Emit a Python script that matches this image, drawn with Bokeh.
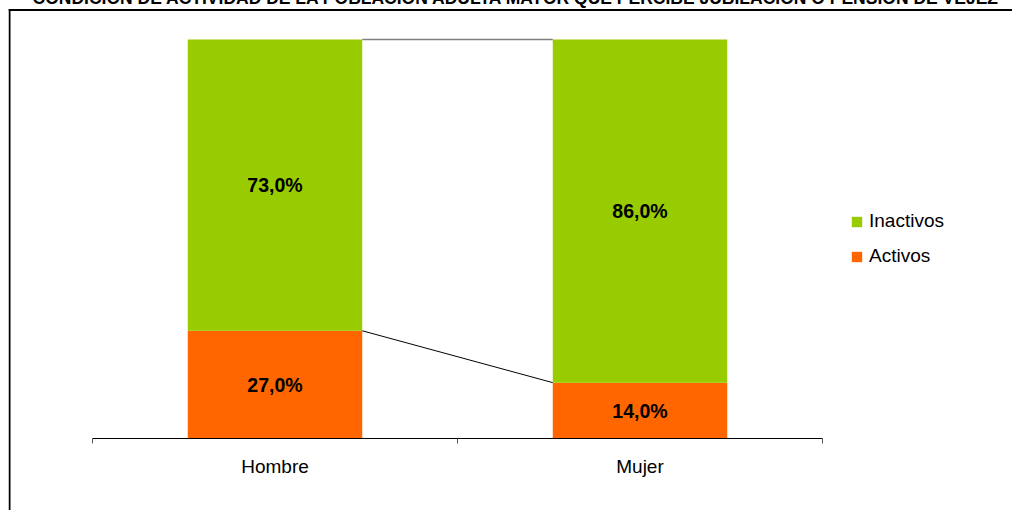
from bokeh.plotting import figure
from bokeh.models import (Range1d, LinearAxis, FixedTicker, Legend, LegendItem,
                          BoxAnnotation, Label, Span, ColumnDataSource)
from bokeh.core.properties import value
from bokeh.embed import file_html
from bokeh.resources import INLINE

# ---- data ----
categories = ["Hombre", "Mujer"]
series = ["Activos", "Inactivos"]
activos = [27.0, 14.0]
inactivos = [73.0, 86.0]
colors = ["#FF6600", "#99CC00"]
title_text = "CONDICIÓN DE ACTIVIDAD DE LA POBLACIÓN ADULTA MAYOR QUE PERCIBE JUBILACIÓN O PENSIÓN DE VEJEZ"

FONT = "Liberation Sans"

# ---- layout geometry (pixels) ----
W, H = 1004, 516
PX_X = 365.0               # pixels per category
PAGE_LEFT = 8
X0_PAGE = 92               # page x of the axis start
xs = -(X0_PAGE - PAGE_LEFT) / PX_X
xe = xs + W / PX_X
PX_Y = 3.99                # pixels per percentage point
PAGE_TOP = -6
ye = 100 + (39 - PAGE_TOP) / PX_Y
ys = ye - H / PX_Y

def yp(page_y):
    return ye - (page_y - PAGE_TOP) / PX_Y

p = figure(width=W, height=H, x_range=Range1d(xs, xe), y_range=Range1d(ys, ye),
           output_backend="svg", toolbar_location=None,
           x_axis_type=None, y_axis_type=None, min_border=0,
           outline_line_color=None, background_fill_color="white",
           border_fill_color="white", margin=(-6, 0, 0, 8))
p.grid.visible = False

x = [i + 0.5 for i in range(len(categories))]
bar_w = 0.478
source = ColumnDataSource(dict(x=x, Activos=activos, Inactivos=inactivos))
rs = p.vbar_stack(series, x="x", width=bar_w, color=colors, line_color=None, source=source)

# connector lines between the stacked bars
tops = [a + b for a, b in zip(activos, inactivos)]
p.line(x=[x[0] + bar_w / 2, x[1] - bar_w / 2], y=activos, line_color="black", line_width=1)
p.line(x=[x[0] + bar_w / 2, x[1] - bar_w / 2], y=tops, line_color="#808080", line_width=1.6)

# data labels
lx, ly, lt = [], [], []
for xi, a, b in zip(x, activos, inactivos):
    lx += [xi, xi]
    ly += [a / 2, a + b / 2]
    lt += [f"{a:.1f}".replace(".", ",") + "%", f"{b:.1f}".replace(".", ",") + "%"]
p.text(x=lx, y=ly, text=lt, text_font=value(FONT), text_font_style="bold",
       text_font_size="19.5px", text_align="center", text_baseline="middle",
       text_color="black")

# category axis
ax = LinearAxis(fixed_location=0, bounds=(0, len(categories)),
                ticker=FixedTicker(ticks=x, minor_ticks=list(range(len(categories) + 1))),
                major_label_overrides={xi: c for xi, c in zip(x, categories)},
                major_tick_line_color=None, major_tick_out=0, major_tick_in=0,
                minor_tick_out=5, minor_tick_in=0, minor_tick_line_color="#555555",
                axis_line_color="black", axis_line_width=1,
                major_label_text_font=FONT, major_label_text_font_size="19px",
                major_label_text_color="black", major_label_standoff=12)
p.add_layout(ax, "below")

# chart border (left and top edges)
p.add_layout(Span(location=yp(9.5), dimension="width", line_color="black", line_width=2))
p.add_layout(BoxAnnotation(left=xs, right=xs + 2 / PX_X, top=yp(8.5),
                           fill_color="black", fill_alpha=1.0, line_color=None))

# title (partly cut at the top, as in the reference)
p.add_layout(Label(x=xs + (32 - PAGE_LEFT) / PX_X, y=yp(-3),
                   text=title_text, text_font=FONT, text_font_style="bold",
                   text_font_size="17.5px", text_align="left",
                   text_baseline="alphabetic", text_color="black"))

legend = Legend(items=[LegendItem(label="Inactivos", renderers=[rs[1]]),
                       LegendItem(label="Activos", renderers=[rs[0]])],
                location=(842, 243), padding=0, margin=0,
                border_line_color=None, background_fill_alpha=0,
                glyph_width=13, glyph_height=13, label_standoff=6, spacing=13,
                label_text_font=FONT, label_text_font_size="19px",
                label_text_color="black")
p.add_layout(legend)

open("out.html", "w").write(file_html(p, INLINE))
